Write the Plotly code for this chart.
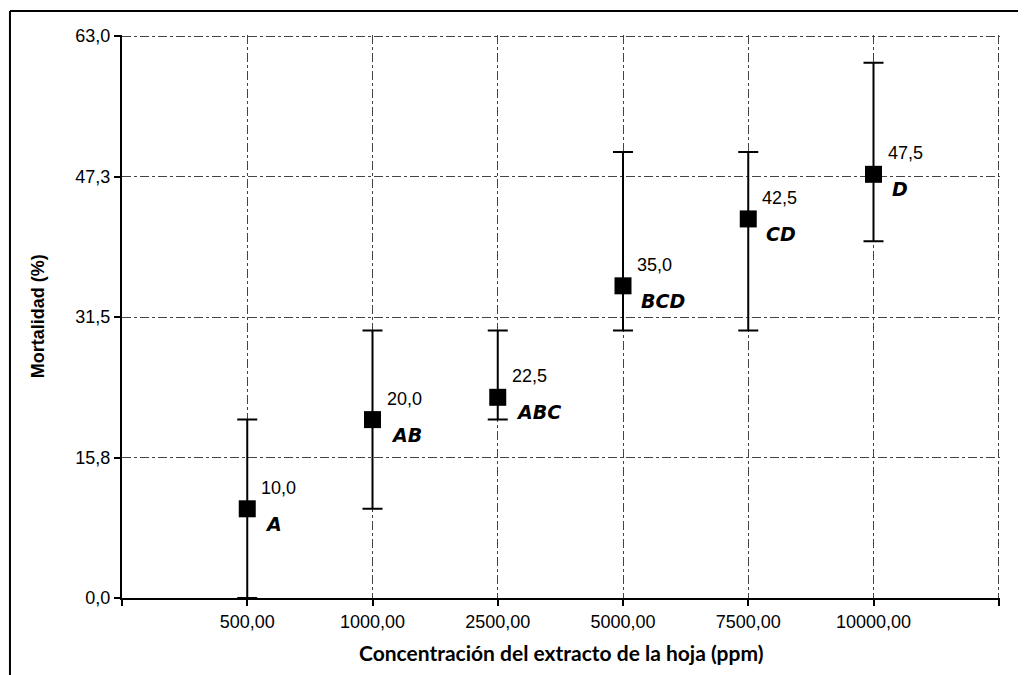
import plotly.graph_objects as go

# ---- data ----
categories = ["500,00", "1000,00", "2500,00", "5000,00", "7500,00", "10000,00"]
mean_mort = [10.0, 20.0, 22.5, 35.0, 42.5, 47.5]
upper_mort = [20.0, 30.0, 30.0, 50.0, 50.0, 60.0]
lower_mort = [0.0, 10.0, 20.0, 30.0, 30.0, 40.0]
value_labels = ["10,0", "20,0", "22,5", "35,0", "42,5", "47,5"]
group_letters = ["A", "AB", "ABC", "BCD", "CD", "D"]
y_tickvals = [0.0, 15.75, 31.5, 47.25, 63.0]
y_ticktext = ["0,0", "15,8", "31,5", "47,3", "63,0"]

xpos = list(range(1, len(categories) + 1))
err_plus = [u - m for u, m in zip(upper_mort, mean_mort)]
err_minus = [m - l for m, l in zip(mean_mort, lower_mort)]

TICKFONT = dict(family="Liberation Sans, Arial, sans-serif", size=18, color="black")

fig = go.Figure()
fig.add_trace(go.Scatter(
    x=xpos, y=mean_mort, mode="markers",
    marker=dict(symbol="square", size=17, color="black"),
    error_y=dict(type="data", symmetric=False, array=err_plus, arrayminus=err_minus,
                 color="black", thickness=2, width=10),
    showlegend=False, hoverinfo="skip",
))

annotations = []
for xp, m, v, g in zip(xpos, mean_mort, value_labels, group_letters):
    annotations.append(dict(x=xp, y=m, xref="x", yref="y", text=v, showarrow=False,
                            xanchor="left", yanchor="middle", xshift=12, yshift=21,
                            font=TICKFONT))
    annotations.append(dict(x=xp, y=m, xref="x", yref="y", text="<b><i>" + g + "</i></b>",
                            showarrow=False, xanchor="left", yanchor="middle",
                            xshift=16, yshift=-15,
                            font=dict(family="DejaVu Sans, sans-serif", size=19, color="black")))

# axis titles
annotations.append(dict(x=0.5, y=-0.096, xref="paper", yref="paper",
                        text="<b>Concentración del extracto de la hoja (ppm)</b>",
                        showarrow=False, xanchor="center", yanchor="middle",
                        font=dict(family="Lato, sans-serif", size=21, color="black")))
annotations.append(dict(x=-0.096, y=0.5, xref="paper", yref="paper",
                        text="<b>Mortalidad (%)</b>", textangle=-90,
                        showarrow=False, xanchor="center", yanchor="middle",
                        font=dict(family="Liberation Sans, Arial, sans-serif", size=18, color="black")))

grid_color = "#444444"
fig.update_layout(
    width=1018, height=667,
    margin=dict(l=114, r=26, t=27, b=77),
    paper_bgcolor="white", plot_bgcolor="white",
    annotations=annotations,
    xaxis=dict(range=[0, len(categories) + 1.01],
               tickvals=[0] + xpos + [len(categories) + 1],
               ticktext=[""] + categories + [""],
               showgrid=True, gridcolor=grid_color, griddash="dashdot", gridwidth=1,
               showline=True, linecolor="black", linewidth=2,
               ticks="outside", ticklen=6, tickwidth=2, tickcolor="black",
               tickfont=TICKFONT, zeroline=False, fixedrange=True),
    yaxis=dict(range=[0, 63.12],
               tickvals=y_tickvals, ticktext=y_ticktext,
               showgrid=True, gridcolor=grid_color, griddash="dashdot", gridwidth=1,
               showline=True, linecolor="black", linewidth=2,
               ticks="outside", ticklen=6, tickwidth=2, tickcolor="black",
               tickfont=TICKFONT, zeroline=False, fixedrange=True),
    shapes=[
        dict(type="line", xref="paper", yref="paper", x0=-0.1276, x1=-0.1276,
             y0=1.0426, y1=-0.14, line=dict(color="black", width=2)),
        dict(type="line", xref="paper", yref="paper", x0=-0.1276, x1=1.03,
             y0=1.0426, y1=1.0426, line=dict(color="black", width=2)),
    ],
)

fig.write_html("out.html")
